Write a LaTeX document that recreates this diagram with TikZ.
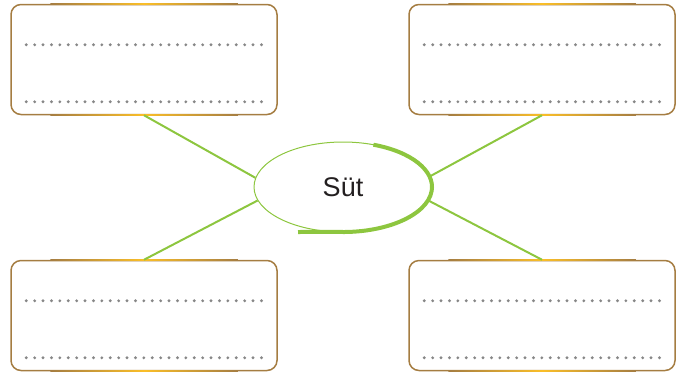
\documentclass[tikz,border=0pt]{standalone}
\usepackage{fontspec}
\setmainfont{Liberation Sans}
\usepackage{xcolor}
\usetikzlibrary{shapes.geometric,calc}
\definecolor{leaf}{RGB}{141,198,63}
\definecolor{frame}{RGB}{165,125,66}
\definecolor{gold}{RGB}{250,190,40}
\definecolor{dotgray}{RGB}{135,135,135}
\definecolor{ink}{RGB}{35,31,32}

\begin{document}
\begin{tikzpicture}[x=0.5pt,y=-0.5pt,
    answer/.style={draw=frame,line width=0.75pt,rounded corners=5pt,minimum width=133pt,minimum height=55pt,inner sep=0pt},
    glow/.style={left color=frame,right color=frame,middle color=gold},
    dotline/.style={dotgray,line width=1.6pt,line cap=round,dash pattern=on 0pt off 4.2pt},
    branch/.style={leaf,line width=1pt}]
  \useasboundingbox (0,0) rectangle (684,371);
  \node[answer] (tl) at (144,59.5) {};
  \node[answer] (tr) at (542,59.5) {};
  \node[answer] (bl) at (144,315.5) {};
  \node[answer] (br) at (542,315.5) {};
  \node[ellipse,draw=leaf,line width=0.5pt,minimum width=89pt,minimum height=45pt,text=ink,font=\fontsize{13.5}{15}\selectfont] (milk) at (343,187) {Süt};
  % thick stroke round the bottom and right of the ellipse
  \draw[leaf,line width=2pt] ($(milk.center)+(-45,45)$) -- ([shift={(265:44.5pt and 22.5pt)}]milk.center) arc[start angle=265,end angle=430,x radius=44.5pt,y radius=22.5pt];
  \foreach \b in {tl,tr,bl,br}{
    \shade[glow] ($(\b.north west)+(40,-0.6)$) rectangle ($(\b.north east)+(-40,0.6)$);
    \shade[glow] ($(\b.south west)+(40,-0.6)$) rectangle ($(\b.south east)+(-40,0.6)$);
    \draw[dotline] ($(\b.north west)+(16,41)$) -- ($(\b.north west)+(252,41)$);
    \draw[dotline] ($(\b.north west)+(16,98)$) -- ($(\b.north west)+(252,98)$);
  }
  \draw[branch] (tl.south) -- (milk.174);
  \draw[branch] (bl.north) -- (milk.189);
  \draw[branch] (tr.south) -- (milk.7);
  \draw[branch] (br.north) -- (milk.351);
\end{tikzpicture}
\end{document}
